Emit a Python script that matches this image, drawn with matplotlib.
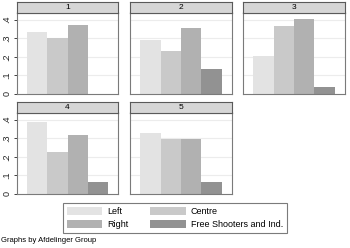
import matplotlib
matplotlib.use("Agg")
import matplotlib.pyplot as plt

plt.rcParams["font.family"] = ["Liberation Sans", "DejaVu Sans"]

groups = ["1", "2", "3", "4", "5"]
series = ["Left", "Centre", "Right", "Free Shooters and Ind."]
left = [0.335, 0.292, 0.205, 0.385, 0.330]
centre = [0.302, 0.229, 0.368, 0.224, 0.298]
right = [0.370, 0.357, 0.402, 0.318, 0.298]
free = [0.0, 0.132, 0.036, 0.064, 0.064]
yticks = [0, 0.1, 0.2, 0.3, 0.4]
ytick_labels = ["0", ".1", ".2", ".3", ".4"]

colors = ["#e3e3e3", "#c9c9c9", "#b1b1b1", "#929292"]

W, H = 350, 248
fig = plt.figure(figsize=(W / 100, H / 100), dpi=100)


def px_axes(x0, y0, x1, y1):
	# pixel box (top-left origin) -> figure fraction axes
	return fig.add_axes([x0 / W, 1 - y1 / H, (x1 - x0) / W, (y1 - y0) / H])


cols = [(17, 118), (130, 232), (243, 345)]
rows = [(2, 12.5, 94), (102, 112.5, 194)]

values = list(zip(left, centre, right, free))
handles = []
for i, name in enumerate(groups):
	r, c = divmod(i, 3)
	x0, x1 = cols[c]
	st, ay0, ay1 = rows[r]
	ax = px_axes(x0, ay0, x1, ay1)
	ax.set_xlim(-1, 4)
	ax.set_ylim(0, 0.438)
	for y in yticks[1:]:
		ax.axhline(y, color="#ececec", lw=0.8, zorder=0)
	bars = ax.bar(range(4), values[i], width=1, color=colors, zorder=2)
	if i == 0:
		handles = list(bars)
	ax.set_xticks([])
	ax.set_yticks(yticks)
	if c == 0:
		ax.set_yticklabels(ytick_labels, rotation=90, va="center", fontsize=6.5)
		ax.tick_params(axis="y", length=2.5, width=0.6, pad=1.5, colors="#222222")
	else:
		ax.tick_params(axis="y", length=0, labelleft=False)
	for s in ax.spines.values():
		s.set_color("#7a7a7a")
		s.set_linewidth(0.8)
	# strip title
	sx = fig.add_axes([x0 / W, 1 - ay0 / H, (x1 - x0) / W, (ay0 - st) / H])
	sx.set_xticks([])
	sx.set_yticks([])
	sx.set_facecolor("#d6d6d6")
	for s in sx.spines.values():
		s.set_color("#5a5a5a")
		s.set_linewidth(0.8)
	sx.text(0.5, 0.5, name, ha="center", va="center", fontsize=6, transform=sx.transAxes)

leg = fig.legend(
	[handles[0], handles[2], handles[1], handles[3]],
	[series[0], series[2], series[1], series[3]],
	ncol=2,
	loc="center",
	bbox_to_anchor=(0.5, 1 - 218 / H),
	fontsize=6.5,
	frameon=True,
	fancybox=False,
	handlelength=3.9,
	handleheight=0.95,
	handletextpad=0.6,
	columnspacing=2.4,
	labelspacing=0.45,
	borderpad=0.4,
)
leg.get_frame().set_edgecolor("#5a5a5a")
leg.get_frame().set_linewidth(0.8)

fig.text(1 / W, 1 - 240 / H, "Graphs by Afdelinger Group", fontsize=5.5, va="center", ha="left")

fig.savefig("out.png", dpi=100)
